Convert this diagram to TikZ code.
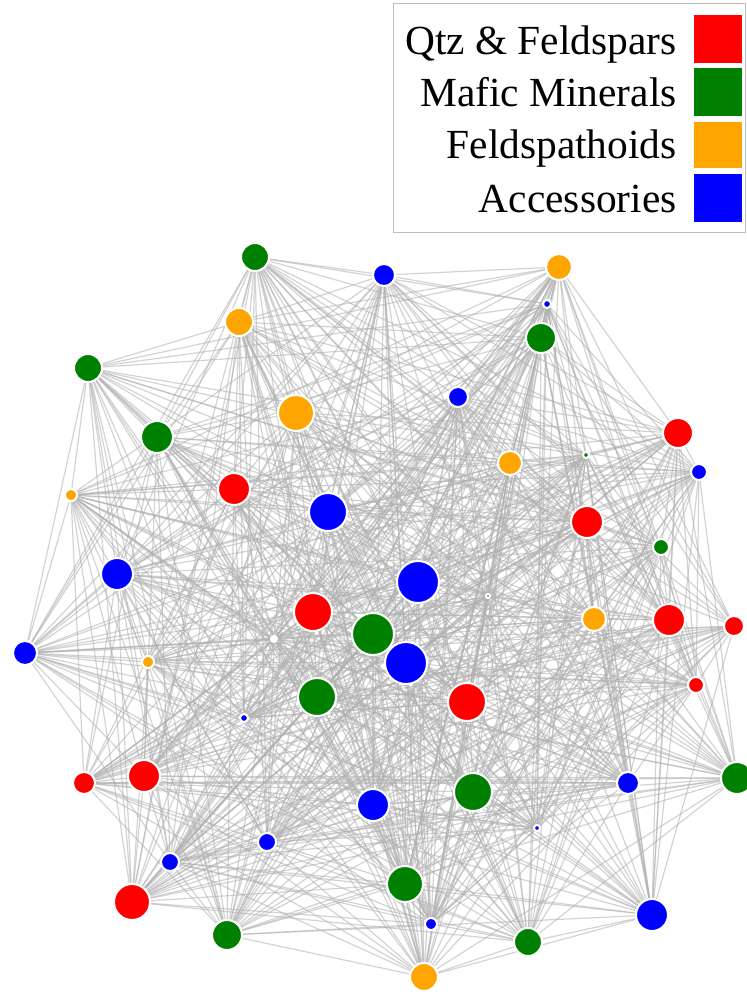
\documentclass[tikz,border=0pt]{standalone}
\usepackage{fontspec}
\setmainfont{Liberation Serif}
\usetikzlibrary{backgrounds}
\definecolor{qtz}{RGB}{255,0,0}
\definecolor{maf}{RGB}{0,128,0}
\definecolor{fel}{RGB}{255,165,0}
\definecolor{acc}{RGB}{0,0,255}
\definecolor{edgegray}{RGB}{175,175,175}
\tikzset{
  mineral/.style={circle, inner sep=0pt, draw=white, line width=1pt},
  edge/.style={draw=edgegray, line width=0.6pt, opacity=0.55},
  legtext/.style={anchor=base east, inner sep=0pt, font=\fontsize{20.7}{24}\selectfont}
}
\begin{document}
\begin{tikzpicture}[x=0.5pt, y=-0.5pt]
\useasboundingbox (0,0) rectangle (747,996);
% nodes
\foreach \n/\x/\y/\r/\c in {
1/255/257/15/maf, 2/384/275/12/acc, 3/559/267/14/fel, 4/547/304/5/acc,
5/541/338/16/maf, 6/239/322/15/fel, 7/88/368/15/maf, 8/458/397/11/acc,
9/296/413/19/fel, 10/157/437/17/maf, 11/678/433/16/qtz, 12/586/455/4/maf,
13/510/463/13/fel, 14/699/472/9/acc, 15/71/495/7/fel, 16/234/489/17/qtz,
17/328/512/20/acc, 18/587/522/17/qtz, 19/661/547/9/maf, 20/117/574/17/acc,
21/418/582/22/acc, 22/488/596/3/maf, 23/313/612/20/qtz, 24/594/619/13/fel,
25/669/620/17/qtz, 26/734/626/11/qtz, 27/373/634/22/maf, 28/406/663/22/acc,
29/25/653/13/acc, 30/148/662/7/fel, 31/696/685/9/qtz, 32/467/702/20/qtz,
33/317/697/20/maf, 34/244/718/5/acc, 35/84/783/12/qtz, 36/144/776/17/qtz,
37/628/783/12/acc, 38/737/778/17/maf, 39/473/792/20/maf, 40/373/805/17/acc,
41/537/828/4/acc, 42/267/842/10/acc, 43/170/862/10/acc, 44/405/884/19/maf,
45/132/902/19/qtz, 46/652/915/17/acc, 47/227/935/16/maf, 48/431/924/7/acc,
49/528/942/15/maf, 50/424/977/15/fel, 51/274/639/4/white}{
  \pgfmathsetmacro{\d}{\r-1}
  \node[mineral, fill=\c, minimum size=\d pt] (n\n) at (\x,\y) {};
}
% edges
\begin{scope}[on background layer]
\foreach \i in {1,...,50}{
  \pgfmathtruncatemacro{\ja}{\i+1}
  \foreach \j in {\ja,...,51}{
    \pgfmathtruncatemacro{\h}{mod(\i*7+\j*13+mod(\i*\j,53)*11,97)}
    \ifnum\h<60 \draw[edge] (n\i) -- (n\j); \fi
  }
}
\end{scope}
% legend
\node[draw=gray!50, line width=0.6pt, fill=white, inner sep=0pt, minimum width=352*0.5pt, minimum height=229*0.5pt, anchor=north west] (legend) at (393,3) {};
\node[legtext] (t1) at (677,54) {Qtz \& Feldspars};
\node[legtext] (t2) at (677,106) {Mafic Minerals};
\node[legtext] (t3) at (677,158) {Feldspathoids};
\node[legtext] (t4) at (677,212) {Accessories};
\fill[qtz] (694,15) rectangle (742,63);
\fill[maf] (694,68) rectangle (742,116);
\fill[fel] (694,122) rectangle (742,168);
\fill[acc] (694,174) rectangle (742,222);
\end{tikzpicture}
\end{document}
